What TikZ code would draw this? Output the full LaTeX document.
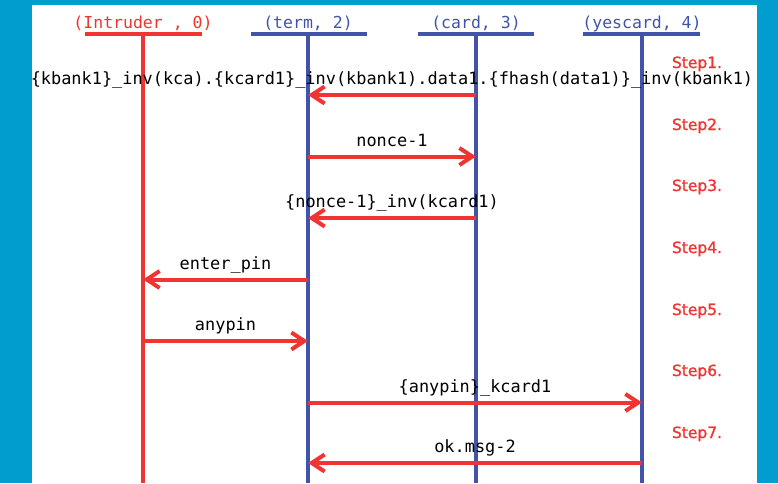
\documentclass[tikz,border=0pt]{standalone}
\usepackage{fontspec}
\usetikzlibrary{arrows.meta}
\newfontfamily\monof{DejaVu Sans Mono}
\newfontfamily\stepf[FakeBold=1.2]{DejaVu Sans}
\definecolor{frameblue}{RGB}{0,157,206}
\definecolor{lifeblue}{RGB}{66,84,170}
\definecolor{msgred}{RGB}{240,52,50}
\tikzset{
  lifeline/.style={line width=4.2pt},
  headbar/.style={line width=4pt},
  headlbl/.style={font=\monof\fontsize{16.5}{18}\selectfont, anchor=base, inner sep=0pt},
  msg/.style={msgred, line width=4pt, -{Straight Barb[length=13pt,width=17pt]}},
  msglbl/.style={font=\monof\fontsize{16.9}{18}\selectfont, text=black, anchor=base, inner sep=0pt, midway, yshift=10.5pt},
  steplbl/.style={font=\stepf\fontsize{15.5}{17}\selectfont, text=msgred, inner sep=0pt, anchor=base}
}
\begin{document}
\begin{tikzpicture}[x=1pt, y=-1pt]
  % frame and page
  \useasboundingbox (0,0) rectangle (778,483);
  \fill[frameblue] (0,0) rectangle (778,483);
  \fill[white] (32,5) rectangle (757,483);

  % participant heads
  \node[headlbl, text=msgred]   (hI) at (143,28) {(Intruder , 0)};
  \node[headlbl, text=lifeblue] (hT) at (308,28) {(term, 2)};
  \node[headlbl, text=lifeblue] (hC) at (476,28) {(card, 3)};
  \node[headlbl, text=lifeblue] (hY) at (642,28) {(yescard, 4)};

  \draw[headbar, msgred]   (85,34)  -- (202,34);
  \draw[headbar, lifeblue] (251,34) -- (367,34);
  \draw[headbar, lifeblue] (418,34) -- (534,34);
  \draw[headbar, lifeblue] (583,34) -- (700,34);

  % lifeline tops, bottoms and message anchors
  \foreach \n/\x in {I/143,T/308,C/476,Y/642}{
    \coordinate (\n0) at (\x,34);
    \coordinate (\n8) at (\x,483);
    \foreach \k/\y in {1/95,2/156.5,3/218,4/279.5,5/341,6/402.5,7/463}
      \coordinate (\n\k) at (\x,\y);
  }

  \draw[lifeline, msgred]   (I0) -- (I8);
  \draw[lifeline, lifeblue] (T0) -- (T8);
  \draw[lifeline, lifeblue] (C0) -- (C8);
  \draw[lifeline, lifeblue] (Y0) -- (Y8);

  % messages
  \draw[msg] (C1) -- node[msglbl]{\{kbank1\}\_inv(kca).\{kcard1\}\_inv(kbank1).data1.\{fhash(data1)\}\_inv(kbank1)} (T1);
  \draw[msg] (T2) -- node[msglbl]{nonce-1} (C2);
  \draw[msg] (C3) -- node[msglbl]{\{nonce-1\}\_inv(kcard1)} (T3);
  \draw[msg] (T4) -- node[msglbl]{enter\_pin} (I4);
  \draw[msg] (I5) -- node[msglbl]{anypin} (T5);
  \draw[msg] (T6) -- node[msglbl]{\{anypin\}\_kcard1} (Y6);
  \draw[msg] (Y7) -- node[msglbl]{ok.msg-2} (T7);

  % step numbers
  \node[steplbl] (s1) at (697,68)  {Step1.};
  \node[steplbl] (s2) at (697,130) {Step2.};
  \node[steplbl] (s3) at (697,191) {Step3.};
  \node[steplbl] (s4) at (697,253) {Step4.};
  \node[steplbl] (s5) at (697,315) {Step5.};
  \node[steplbl] (s6) at (697,376) {Step6.};
  \node[steplbl] (s7) at (697,438) {Step7.};
\end{tikzpicture}
\end{document}
